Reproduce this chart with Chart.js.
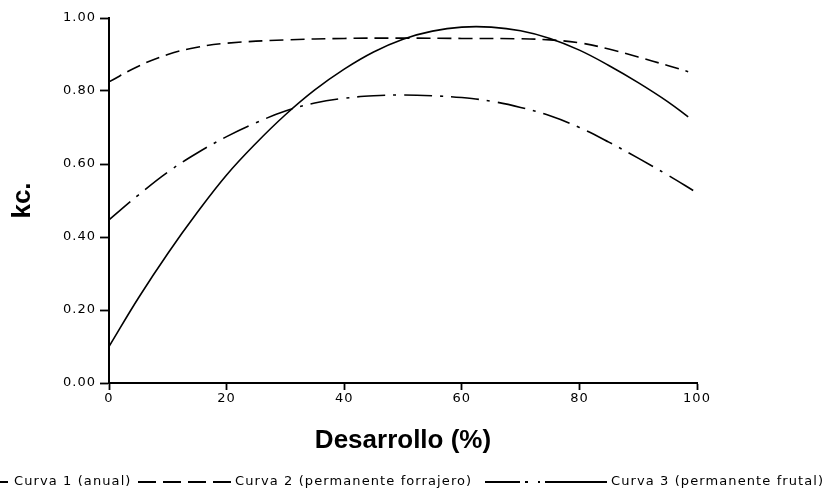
<!DOCTYPE html>
<html>
<head>
<meta charset="utf-8">
<script src="https://cdn.jsdelivr.net/npm/chart.js@4.4.1/dist/chart.umd.min.js"></script>
<style>
  html, body { margin: 0; padding: 0; background: #ffffff; }
  #wrap { width: 832px; height: 496px; }
</style>
</head>
<body>
<div id="wrap"><canvas id="c" width="832" height="496"></canvas></div>
<script>
// ---- data ----
const xTicks = [0, 20, 40, 60, 80, 100];
const yTicks = [0.00, 0.20, 0.40, 0.60, 0.80, 1.00];

const seriesLabels = ['Curva 1 (anual)', 'Curva 2 (permanente forrajero)', 'Curva 3 (permanente frutal)'];

const x1 = [0, 5, 10, 15, 20, 25, 30, 35, 40, 45, 50, 55, 60, 65, 70, 75, 80, 85, 90, 95, 98.5];
const y1 = [0.100, 0.233, 0.355, 0.467, 0.570, 0.657, 0.735, 0.803, 0.860, 0.907, 0.942, 0.964, 0.975, 0.975, 0.965, 0.944, 0.912, 0.870, 0.823, 0.771, 0.729];

const x2 = [0, 5, 10, 15, 20, 30, 40, 50, 60, 70, 75, 80, 85, 90, 95, 98.5];
const y2 = [0.825, 0.868, 0.900, 0.920, 0.931, 0.940, 0.944, 0.945, 0.944, 0.943, 0.940, 0.932, 0.915, 0.893, 0.870, 0.853];

const x3 = [0, 5, 10, 15, 20, 25, 30, 35, 40, 45, 50, 55, 60, 65, 70, 75, 80, 85, 90, 95, 99.7];
const y3 = [0.447, 0.515, 0.578, 0.630, 0.675, 0.713, 0.745, 0.767, 0.780, 0.787, 0.789, 0.787, 0.782, 0.772, 0.755, 0.732, 0.700, 0.660, 0.616, 0.570, 0.524];

const toPts = (xs, ys) => xs.map((x, i) => ({ x: x, y: ys[i] }));

const dashStyles = [[], [14, 7], [28, 8, 3, 8]];

// letter-spaced tick labels, tight axis titles
const spacingPlugin = {
  id: 'letterSpacing',
  beforeInit(chart) { chart.ctx.letterSpacing = '1px'; },
  afterLayout(chart) {
    Object.values(chart.scales).forEach(s => {
      if (!s._wrappedTitle) {
        const orig = s.drawTitle.bind(s);
        s.drawTitle = function () {
          const ctx = this.ctx;
          const prev = ctx.letterSpacing;
          ctx.letterSpacing = '0px';
          orig();
          ctx.letterSpacing = prev;
        };
        s._wrappedTitle = true;
      }
    });
  },
  beforeDraw(chart) { chart.ctx.letterSpacing = '1px'; }
};

const legendPlugin = {
  id: 'customLegend',
  afterDraw(chart) {
    const ctx = chart.ctx;
    const y = 482;
    const items = [
      { lineFrom: -20, lineTo: 8, textX: 14, dash: [] },
      { lineFrom: 138, lineTo: 232, textX: 235, dash: [18, 7] },
      { lineFrom: 485, lineTo: 607, textX: 611, dash: [35, 5, 3, 10, 2, 5, 62, 200] }
    ];
    ctx.save();
    chart.data.datasets.forEach((ds, i) => {
      const it = items[i];
      ctx.beginPath();
      ctx.setLineDash(it.dash);
      ctx.lineWidth = 2;
      ctx.strokeStyle = '#000';
      ctx.moveTo(it.lineFrom, y);
      ctx.lineTo(it.lineTo, y);
      ctx.stroke();
      ctx.setLineDash([]);
      ctx.fillStyle = '#000';
      ctx.font = '13px "DejaVu Sans"';
      ctx.letterSpacing = '1.1px';
      ctx.textBaseline = 'middle';
      ctx.textAlign = 'left';
      ctx.fillText(ds.label, it.textX, y);
    });
    ctx.restore();
  }
};

const tickFont = { family: '"DejaVu Sans"', size: 13 };
const titleFont = { family: '"Liberation Sans"', size: 26, weight: 'bold' };

new Chart(document.getElementById('c'), {
  type: 'line',
  data: {
    datasets: [0, 1, 2].map(i => ({
      label: seriesLabels[i],
      data: toPts([x1, x2, x3][i], [y1, y2, y3][i]),
      borderColor: '#000',
      borderWidth: 1.6,
      borderDash: dashStyles[i],
      pointRadius: 0,
      fill: false,
      tension: 0.4
    }))
  },
  options: {
    responsive: false,
    animation: false,
    layout: { padding: { top: 18, right: 135, bottom: 40, left: 0 } },
    plugins: { legend: { display: false }, tooltip: { enabled: false } },
    scales: {
      x: {
        type: 'linear',
        min: 0, max: 100,
        afterFit(scale) { scale.height = 73; },
        afterBuildTicks(scale) { scale.ticks = xTicks.map(v => ({ value: v })); },
        grid: { drawOnChartArea: false, drawTicks: true, tickLength: 7, tickWidth: 1.8, tickColor: '#000' },
        border: { display: true, color: '#000', width: 2 },
        ticks: { color: '#000', font: tickFont, padding: 1, maxRotation: 0 },
        title: {
          display: true, text: 'Desarrollo (%)', color: '#000',
          font: titleFont,
          padding: { top: 0, bottom: 0 }
        }
      },
      y: {
        type: 'linear',
        min: 0, max: 1,
        afterFit(scale) { scale.width = 109; },
        afterBuildTicks(scale) { scale.ticks = yTicks.map(v => ({ value: v })); },
        grid: { drawOnChartArea: false, drawTicks: true, tickLength: 9, tickWidth: 1.8, tickColor: '#000' },
        border: { display: true, color: '#000', width: 2 },
        ticks: { color: '#000', font: tickFont, padding: 4, callback: v => Number(v).toFixed(2) },
        title: {
          display: true, text: 'kc.', color: '#000',
          font: titleFont,
          padding: { top: 7, bottom: 0 }
        }
      }
    }
  },
  plugins: [spacingPlugin, legendPlugin]
});
</script>
</body>
</html>
